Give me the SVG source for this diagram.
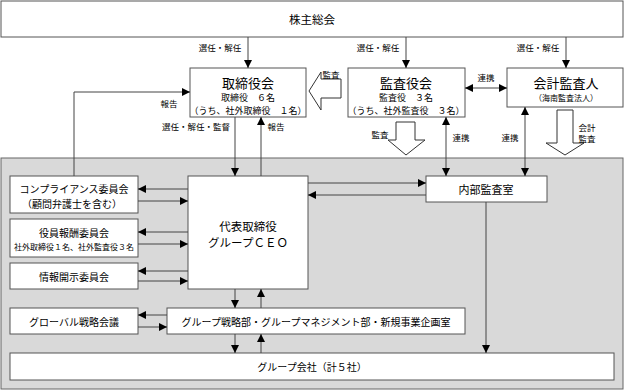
<svg xmlns="http://www.w3.org/2000/svg" width="625" height="390" viewBox="0 0 625 390">
<style>
text{font-family:"Noto Sans CJK JP","Noto Sans",sans-serif;fill:#000;text-anchor:middle;dominant-baseline:central}
.box{fill:#fff;stroke:#555;stroke-width:1}
.ln{fill:none;stroke:#444;stroke-width:1}
.hol{fill:#fff;stroke:#333;stroke-width:1}
.t13{font-size:13px}
.t12{font-size:11.5px}
.t11{font-size:11px}
.t10{font-size:10px}
.t9{font-size:9px}
.t8{font-size:8px}
.lab{font-size:8.5px}
</style>
<defs>
<marker id="ah" viewBox="0 0 10 10" refX="10" refY="5" markerWidth="9" markerHeight="8" orient="auto-start-reverse" markerUnits="userSpaceOnUse"><path d="M0,0 L10,5 L0,10 z" fill="#000"/></marker>
</defs>
<rect x="1" y="158" width="622" height="231" fill="#d9d9d9" stroke="#666"/>
<g id="shareholders"><rect class="box" x="1" y="1" width="622" height="36"/><text class="t12" x="312" y="19">株主総会</text></g>
<g id="board"><rect class="box" x="190" y="68" width="116" height="49"/><text class="t13" x="248" y="82">取締役会</text><text class="t9" x="248" y="97">取締役　６名</text><text class="t9" x="248" y="110">（うち、社外取締役　１名）</text></g>
<g id="auditors"><rect class="box" x="348" y="68" width="117" height="49"/><text class="t13" x="406" y="82">監査役会</text><text class="t9" x="406" y="97">監査役　３名</text><text class="t9" x="406" y="110">（うち、社外監査役　３名）</text></g>
<g id="accounting"><rect class="box" x="507" y="68" width="116" height="39"/><text class="t13" x="566" y="82">会計監査人</text><text class="t8" x="566" y="97">（海南監査法人）</text></g>
<g id="compliance"><rect class="box" x="10" y="176" width="128" height="37"/><text class="t10" x="74" y="188.5">コンプライアンス委員会</text><text class="t10" x="72" y="203.5">（顧問弁護士を含む）</text></g>
<g id="remuneration"><rect class="box" x="10" y="219" width="128" height="38"/><text class="t10" x="74" y="232">役員報酬委員会</text><text class="t8" x="74" y="246">社外取締役１名、社外監査役３名</text></g>
<g id="disclosure"><rect class="box" x="10" y="263" width="128" height="26"/><text class="t10" x="74" y="276">情報開示委員会</text></g>
<g id="global"><rect class="box" x="10" y="308" width="128" height="26"/><text class="t10" x="74" y="321">グローバル戦略会議</text></g>
<g id="ceo"><rect class="box" x="188" y="176" width="120" height="113"/><text class="t12" x="248" y="226">代表取締役</text><text class="t12" x="248" y="242">グループＣＥＯ</text></g>
<g id="internal"><rect class="box" x="426" y="176" width="121" height="26"/><text class="t11" x="486" y="189">内部監査室</text></g>
<g id="strategy"><rect class="box" x="167" y="308" width="298" height="26"/><text class="t10" x="316" y="321">グループ戦略部・グループマネジメント部・新規事業企画室</text></g>
<g id="group"><rect class="box" x="10" y="353" width="604" height="27"/><text class="t10" x="312" y="366">グループ会社（計５社）</text></g>
<g id="connectors">
<line class="ln" x1="248" y1="37" x2="248" y2="68" marker-end="url(#ah)"/>
<line class="ln" x1="406" y1="37" x2="406" y2="68" marker-end="url(#ah)"/>
<line class="ln" x1="566" y1="37" x2="566" y2="68" marker-end="url(#ah)"/>
<text class="lab" x="220" y="47">選任・解任</text>
<text class="lab" x="378" y="47">選任・解任</text>
<text class="lab" x="538" y="47">選任・解任</text>
<path class="hol" d="M341,79 L321,79 L321,72 L309,91 L321,110 L321,98 L341,98 Z"/>
<text class="lab" x="331" y="74">監査</text>
<line class="ln" x1="465" y1="88" x2="507" y2="88" marker-start="url(#ah)" marker-end="url(#ah)"/>
<text class="lab" x="486" y="77">連携</text>
<polyline class="ln" points="74,176 74,92 190,92" marker-end="url(#ah)"/>
<text class="lab" x="169" y="103">報告</text>
<line class="ln" x1="235" y1="117" x2="235" y2="176" marker-end="url(#ah)"/>
<text class="lab" x="196" y="126">選任・解任・監督</text>
<line class="ln" x1="261" y1="176" x2="261" y2="117" marker-end="url(#ah)"/>
<text class="lab" x="276" y="126">報告</text>
<path class="hol" d="M396,122 L415,122 L415,140 L425,140 L406,155 L388,140 L396,140 Z"/>
<text class="lab" x="380" y="134">監査</text>
<line class="ln" x1="446" y1="117" x2="446" y2="176" marker-start="url(#ah)" marker-end="url(#ah)"/>
<text class="lab" x="461" y="137">連携</text>
<line class="ln" x1="525" y1="107" x2="525" y2="176" marker-start="url(#ah)" marker-end="url(#ah)"/>
<text class="lab" x="510" y="137">連携</text>
<path class="hol" d="M557,110 L573,110 L573,143 L584,143 L565,155 L546,143 L557,143 Z"/>
<text class="lab" x="587" y="127">会計</text>
<text class="lab" x="587" y="138">監査</text>
<line class="ln" x1="188" y1="189" x2="138" y2="189" marker-end="url(#ah)"/>
<line class="ln" x1="138" y1="201" x2="188" y2="201" marker-end="url(#ah)"/>
<line class="ln" x1="188" y1="232" x2="138" y2="232" marker-end="url(#ah)"/>
<line class="ln" x1="138" y1="244" x2="188" y2="244" marker-end="url(#ah)"/>
<line class="ln" x1="188" y1="271" x2="138" y2="271" marker-end="url(#ah)"/>
<line class="ln" x1="138" y1="281" x2="188" y2="281" marker-end="url(#ah)"/>
<line class="ln" x1="167" y1="315" x2="138" y2="315" marker-end="url(#ah)"/>
<line class="ln" x1="138" y1="327" x2="167" y2="327" marker-end="url(#ah)"/>
<line class="ln" x1="308" y1="183" x2="426" y2="183" marker-end="url(#ah)"/>
<line class="ln" x1="426" y1="195" x2="308" y2="195" marker-end="url(#ah)"/>
<line class="ln" x1="235" y1="289" x2="235" y2="308" marker-end="url(#ah)"/>
<line class="ln" x1="261" y1="308" x2="261" y2="289" marker-end="url(#ah)"/>
<line class="ln" x1="235" y1="334" x2="235" y2="353" marker-end="url(#ah)"/>
<line class="ln" x1="261" y1="353" x2="261" y2="334" marker-end="url(#ah)"/>
<line class="ln" x1="486" y1="202" x2="486" y2="353" marker-end="url(#ah)"/>
</g>
</svg>
